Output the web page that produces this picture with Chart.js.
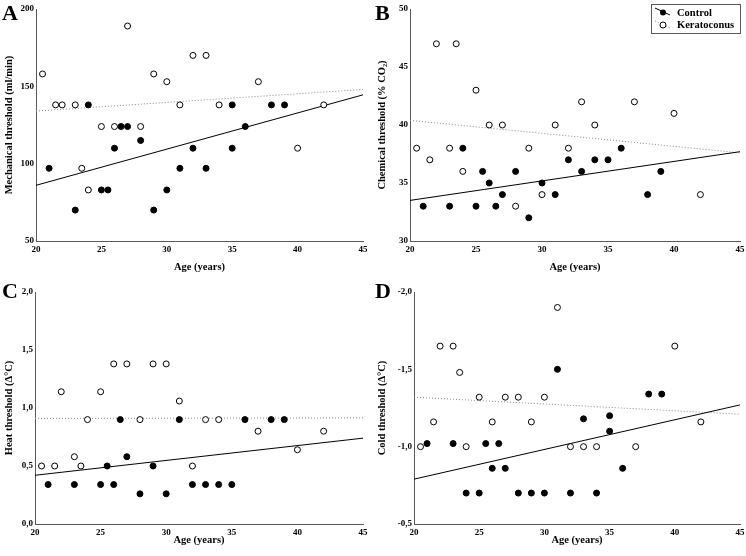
<!DOCTYPE html>
<html>
<head>
<meta charset="utf-8">
<script src="https://cdn.jsdelivr.net/npm/chart.js@4.4.1/dist/chart.umd.min.js"></script>
<style>
  body { margin: 0; background: #fff; }
  #wrap { position: relative; width: 746px; height: 556px; background: #fff; }
  canvas { position: absolute; }
</style>
</head>
<body>
<div id="wrap">
  <canvas id="panelA" width="373" height="278" style="left:0;top:0"></canvas>
  <canvas id="panelB" width="373" height="278" style="left:373px;top:0"></canvas>
  <canvas id="panelC" width="373" height="278" style="left:0;top:278px"></canvas>
  <canvas id="panelD" width="373" height="278" style="left:373px;top:278px"></canvas>
</div>
<script>
// x range of regression lines
const lineAges = [20, 45];

// A: mechanical threshold
const mechKeratoAge = [20.5, 21.5, 22, 23, 23.5, 24, 25, 26, 27, 28, 29, 30, 31, 32, 33, 34, 37, 40, 42];
const mechKeratoVal = [158, 138, 138, 138, 97, 83, 124, 124, 189, 124, 158, 153, 138, 170, 170, 138, 153, 110, 138];
const mechControlAge = [21, 23, 24, 25, 25.5, 26, 26.5, 27, 28, 29, 30, 31, 32, 33, 35, 35, 36, 38, 39];
const mechControlVal = [97, 70, 138, 83, 83, 110, 124, 124, 115, 70, 83, 97, 110, 97, 138, 110, 124, 138, 138];
const mechControlFit = [86, 144.5];
const mechKeratoFit = [134, 148];

// B: chemical threshold
const chemKeratoAge = [20.5, 21.5, 22, 23, 23.5, 24, 25, 26, 27, 28, 29, 30, 31, 32, 33, 34, 37, 40, 42];
const chemKeratoVal = [38, 37, 47, 38, 47, 36, 43, 40, 40, 33, 38, 34, 40, 38, 42, 40, 42, 41, 34];
const chemControlAge = [21, 23, 24, 25, 25.5, 26, 26.5, 27, 28, 29, 30, 31, 32, 33, 34, 35, 36, 38, 39];
const chemControlVal = [33, 33, 38, 33, 36, 35, 33, 34, 36, 32, 35, 34, 37, 36, 37, 37, 38, 34, 36];
const chemControlFit = [33.5, 37.7];
const chemKeratoFit = [40.4, 37.6];

// C: heat threshold
const heatKeratoAge = [20.5, 21.5, 22, 23, 23.5, 24, 25, 26, 27, 28, 29, 30, 31, 32, 33, 34, 37, 40, 42];
const heatKeratoVal = [0.5, 0.5, 1.14, 0.58, 0.5, 0.9, 1.14, 1.38, 1.38, 0.9, 1.38, 1.38, 1.06, 0.5, 0.9, 0.9, 0.8, 0.64, 0.8];
const heatControlAge = [21, 23, 25, 25.5, 26, 26.5, 27, 28, 29, 30, 31, 32, 33, 34, 35, 36, 38, 39];
const heatControlVal = [0.34, 0.34, 0.34, 0.5, 0.34, 0.9, 0.58, 0.26, 0.5, 0.26, 0.9, 0.34, 0.34, 0.34, 0.34, 0.9, 0.9, 0.9];
const heatControlFit = [0.42, 0.74];
const heatKeratoFit = [0.91, 0.915];

// D: cold threshold
const coldKeratoAge = [20.5, 21.5, 22, 23, 23.5, 24, 25, 26, 27, 28, 29, 30, 31, 32, 33, 34, 37, 40, 42];
const coldKeratoVal = [-1.0, -1.16, -1.65, -1.65, -1.48, -1.0, -1.32, -1.16, -1.32, -1.32, -1.16, -1.32, -1.9, -1.0, -1.0, -1.0, -1.0, -1.65, -1.16];
const coldControlAge = [21, 23, 24, 25, 25.5, 26, 26.5, 27, 28, 29, 30, 31, 32, 33, 34, 35, 35, 36, 38, 39];
const coldControlVal = [-1.02, -1.02, -0.7, -0.7, -1.02, -0.86, -1.02, -0.86, -0.7, -0.7, -0.7, -1.5, -0.7, -1.18, -0.7, -1.2, -1.1, -0.86, -1.34, -1.34];
const coldControlFit = [-0.79, -1.27];
const coldKeratoFit = [-1.32, -1.21];

const serif = "'Liberation Serif', 'Times New Roman', serif";
const axisGray = '#5a5a5a';

/**
 * pair x and y lists into points
 */
function toPoints(xs, ys) {
  return xs.map((x, i) => ({ x: x, y: ys[i] }));
}

/**
 * comma decimal tick label
 */
function commaTick(v) {
  return v.toFixed(1).replace('.', ',');
}

/**
 * panel letter + optional legend
 */
function makeDecor(letter, withLegend) {
  return {
    id: 'decor' + letter,
    afterDraw(chart) {
      const ctx = chart.ctx;
      ctx.save();
      ctx.fillStyle = '#000';
      ctx.font = 'bold 22px ' + serif;
      ctx.textBaseline = 'alphabetic';
      ctx.textAlign = 'left';
      ctx.fillText(letter, 2, 20);
      if (withLegend) {
        // box
        ctx.strokeStyle = axisGray;
        ctx.lineWidth = 1;
        ctx.strokeRect(278.5, 4.5, 89, 29);
        // control entry
        ctx.strokeStyle = '#000';
        ctx.beginPath();
        ctx.moveTo(282, 8);
        ctx.lineTo(297, 15);
        ctx.stroke();
        ctx.fillStyle = '#000';
        ctx.beginPath();
        ctx.arc(290, 12.5, 3, 0, Math.PI * 2);
        ctx.fill();
        // keratoconus entry
        ctx.strokeStyle = '#888';
        ctx.setLineDash([1, 2]);
        ctx.beginPath();
        ctx.moveTo(282, 21);
        ctx.lineTo(297, 28);
        ctx.stroke();
        ctx.setLineDash([]);
        ctx.fillStyle = '#fff';
        ctx.strokeStyle = '#000';
        ctx.beginPath();
        ctx.arc(290, 25, 3, 0, Math.PI * 2);
        ctx.fill();
        ctx.stroke();
        // texts
        ctx.fillStyle = '#000';
        ctx.font = 'bold 10.5px ' + serif;
        ctx.textBaseline = 'middle';
        ctx.fillText('Control', 304, 13);
        ctx.fillText('Keratoconus', 304, 25);
      }
      ctx.restore();
    }
  };
}

/**
 * draw one scatter panel
 */
function drawPanel(eleId, cfg) {
  const ctx = document.getElementById(eleId).getContext('2d');
  const area = cfg.area;
  const datasets = [
    {
      type: 'scatter',
      data: toPoints(cfg.controlAge, cfg.controlVal),
      pointRadius: 3,
      pointBackgroundColor: '#000',
      pointBorderColor: '#000',
      pointBorderWidth: 1,
      order: 1
    },
    {
      type: 'scatter',
      data: toPoints(cfg.keratoAge, cfg.keratoVal),
      pointRadius: 3,
      pointBackgroundColor: '#fff',
      pointBorderColor: '#000',
      pointBorderWidth: 1,
      order: 1
    },
    {
      type: 'line',
      data: toPoints(lineAges, cfg.controlFit),
      borderColor: '#000',
      borderWidth: 1,
      pointRadius: 0,
      order: 2
    },
    {
      type: 'line',
      data: toPoints(lineAges, cfg.keratoFit),
      borderColor: '#888',
      borderWidth: 1,
      borderDash: [1, 2],
      pointRadius: 0,
      order: 2
    }
  ];

  new Chart(ctx, {
    type: 'scatter',
    data: { datasets: datasets },
    options: {
      responsive: false,
      animation: false,
      devicePixelRatio: 1,
      layout: { padding: { left: 0, right: 373 - area.right, top: area.top, bottom: 0 } },
      plugins: { legend: { display: false }, tooltip: { enabled: false } },
      scales: {
        x: {
          type: 'linear',
          min: 20, max: 45,
          ticks: { stepSize: 5, color: '#000', padding: 3, font: { family: serif, size: 9, weight: 'bold' } },
          grid: { display: false, drawTicks: false },
          border: { display: true, color: axisGray, width: 1 },
          title: { display: true, text: 'Age (years)', color: '#000', font: { family: serif, size: 10.5, weight: 'bold' }, padding: { top: 0, bottom: cfg.xTitlePad } },
          afterFit(scale) {
            scale.height = 278 - area.bottom;
            scale.paddingLeft = 0;
            scale.paddingRight = 0;
          }
        },
        y: {
          type: 'linear',
          min: cfg.yMin, max: cfg.yMax,
          reverse: !!cfg.reverse,
          ticks: {
            stepSize: cfg.yStep, color: '#000', padding: 2,
            font: { family: serif, size: 9, weight: 'bold' },
            callback: cfg.tickFmt
          },
          grid: { display: false, drawTicks: false },
          border: { display: true, color: axisGray, width: 1 },
          title: { display: true, text: cfg.yTitle, color: '#000', font: { family: serif, size: 10.5, weight: 'bold' }, padding: { top: 3, bottom: 0 } },
          afterFit(scale) {
            scale.width = area.left;
            scale.paddingTop = 0;
            scale.paddingBottom = 0;
          }
        }
      }
    },
    plugins: [makeDecor(cfg.letter, cfg.legend)]
  });
}

drawPanel('panelA', {
  letter: 'A', legend: false,
  area: { left: 36, right: 363, top: 9, bottom: 241 },
  xTitlePad: 4,
  controlAge: mechControlAge, controlVal: mechControlVal,
  keratoAge: mechKeratoAge, keratoVal: mechKeratoVal,
  controlFit: mechControlFit, keratoFit: mechKeratoFit,
  yMin: 50, yMax: 200, yStep: 50,
  tickFmt: (v) => v,
  yTitle: 'Mechanical threshold (ml/min)'
});

drawPanel('panelB', {
  letter: 'B', legend: true,
  area: { left: 37, right: 367, top: 9, bottom: 241 },
  xTitlePad: 4,
  controlAge: chemControlAge, controlVal: chemControlVal,
  keratoAge: chemKeratoAge, keratoVal: chemKeratoVal,
  controlFit: chemControlFit, keratoFit: chemKeratoFit,
  yMin: 30, yMax: 50, yStep: 5,
  tickFmt: (v) => v,
  yTitle: 'Chemical threshold (% CO₂)'
});

drawPanel('panelC', {
  letter: 'C', legend: false,
  area: { left: 35, right: 363, top: 14, bottom: 246 },
  xTitlePad: 9,
  controlAge: heatControlAge, controlVal: heatControlVal,
  keratoAge: heatKeratoAge, keratoVal: heatKeratoVal,
  controlFit: heatControlFit, keratoFit: heatKeratoFit,
  yMin: 0, yMax: 2, yStep: 0.5,
  tickFmt: commaTick,
  yTitle: 'Heat threshold (Δ°C)'
});

drawPanel('panelD', {
  letter: 'D', legend: false,
  area: { left: 41, right: 367, top: 14, bottom: 246 },
  xTitlePad: 9,
  controlAge: coldControlAge, controlVal: coldControlVal,
  keratoAge: coldKeratoAge, keratoVal: coldKeratoVal,
  controlFit: coldControlFit, keratoFit: coldKeratoFit,
  yMin: -2, yMax: -0.5, yStep: 0.5, reverse: true,
  tickFmt: commaTick,
  yTitle: 'Cold threshold (Δ°C)'
});
</script>
</body>
</html>
